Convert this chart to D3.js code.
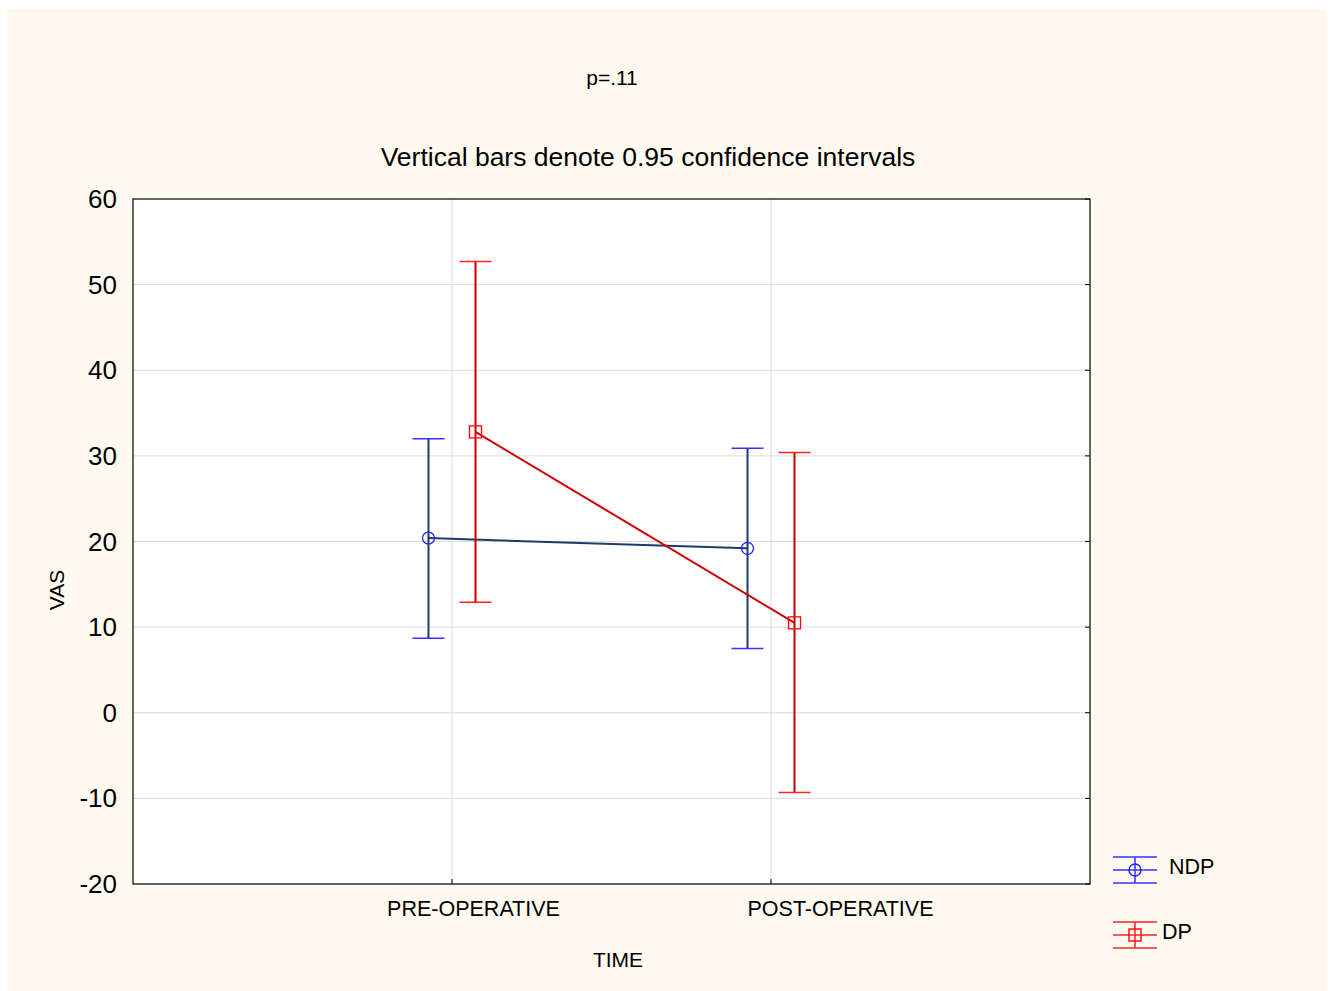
<!DOCTYPE html>
<html>
<head>
<meta charset="utf-8">
<script src="https://cdn.jsdelivr.net/npm/d3@7"></script>
<style>
  body { margin: 0; background: #fff; }
  text { font-family: "Liberation Sans", Arial, sans-serif; fill: #000; }
</style>
</head>
<body>
<svg id="chart" width="1333" height="991"></svg>
<script>
// data
var times = ["PRE-OPERATIVE", "POST-OPERATIVE"]
var groups = ["NDP", "DP"]
var ndpMean = [20.4, 19.2]
var ndpLow = [8.7, 7.5]
var ndpHigh = [32.0, 30.9]
var dpMean = [32.8, 10.5]
var dpLow = [12.9, -9.3]
var dpHigh = [52.7, 30.4]
var yTicks = [-20, -10, 0, 10, 20, 30, 40, 50, 60]

var svg = d3.select("#chart")

// panel background
svg.append("rect")
   .attr("x", 7).attr("y", 9)
   .attr("width", 1320).attr("height", 982)
   .attr("fill", "#fffaf0")

var pLeft = 133, pRight = 1090, pTop = 199, pBottom = 884

var x = d3.scalePoint().domain(times).range([pLeft, pRight]).padding(1)
var y = d3.scaleLinear().domain([-20, 60]).range([pBottom, pTop])

// plot area
svg.append("rect")
   .attr("x", pLeft).attr("y", pTop)
   .attr("width", pRight - pLeft).attr("height", pBottom - pTop)
   .attr("fill", "#fff")

// grid
svg.append("g").selectAll("line").data(yTicks.slice(1, -1)).join("line")
   .attr("x1", pLeft).attr("x2", pRight)
   .attr("y1", d => y(d)).attr("y2", d => y(d))
   .attr("stroke", "#dcdcdc").attr("stroke-width", 1)
svg.append("g").selectAll("line").data(times).join("line")
   .attr("x1", d => x(d)).attr("x2", d => x(d))
   .attr("y1", pTop).attr("y2", pBottom)
   .attr("stroke", "#dcdcdc").attr("stroke-width", 1)

// axes (tick labels only, frame drawn separately)
var yAxis = d3.axisLeft(y).tickValues(yTicks).tickFormat(d => String(d)).tickSize(0).tickPadding(16)
var gy = svg.append("g").attr("transform", "translate(" + pLeft + ",0)").call(yAxis)
gy.select(".domain").remove()
gy.selectAll("text").style("font-size", "26px").attr("dy", "0.33em")

var xAxis = d3.axisBottom(x).tickSize(0).tickPadding(17)
var gx = svg.append("g").attr("transform", "translate(0," + pBottom + ")").call(xAxis)
gx.select(".domain").remove()
var labelShift = [21, 69]
gx.selectAll("text").style("font-size", "21.5px").attr("dx", (d, i) => labelShift[i])

// small ticks on frame
svg.append("g").selectAll("line").data(yTicks).join("line")
   .attr("x1", pRight - 5).attr("x2", pRight)
   .attr("y1", d => y(d)).attr("y2", d => y(d))
   .attr("stroke", "#000")
svg.append("g").selectAll("line").data(times).join("line")
   .attr("x1", d => x(d)).attr("x2", d => x(d))
   .attr("y1", pBottom).attr("y2", pBottom - 5)
   .attr("stroke", "#000")

svg.append("rect")
   .attr("x", pLeft).attr("y", pTop)
   .attr("width", pRight - pLeft).attr("height", pBottom - pTop)
   .attr("fill", "none").attr("stroke", "#000").attr("stroke-width", 1.2)

// series
var series = [
  {name: "NDP", mean: ndpMean, low: ndpLow, high: ndpHigh, off: -23.5, line: "#1f3b6b", cap: "#3333ff", mark: "circle"},
  {name: "DP", mean: dpMean, low: dpLow, high: dpHigh, off: 23.5, line: "#cc0000", cap: "#ff2020", mark: "square"}
]

series.forEach(function(s) {
  var g = svg.append("g")
  var pts = times.map((t, i) => ({x: x(t) + s.off, m: s.mean[i], lo: s.low[i], hi: s.high[i]}))
  g.selectAll(".bar").data(pts).join("line")
   .attr("x1", d => d.x).attr("x2", d => d.x)
   .attr("y1", d => y(d.lo)).attr("y2", d => y(d.hi))
   .attr("stroke", s.line).attr("stroke-width", 2)
  g.selectAll(".capHi").data(pts).join("line")
   .attr("x1", d => d.x - 16).attr("x2", d => d.x + 16)
   .attr("y1", d => y(d.hi)).attr("y2", d => y(d.hi))
   .attr("stroke", s.cap).attr("stroke-width", 1.5)
  g.selectAll(".capLo").data(pts).join("line")
   .attr("x1", d => d.x - 16).attr("x2", d => d.x + 16)
   .attr("y1", d => y(d.lo)).attr("y2", d => y(d.lo))
   .attr("stroke", s.cap).attr("stroke-width", 1.5)
  g.append("path").datum(pts)
   .attr("d", d3.line().x(d => d.x).y(d => y(d.m)))
   .attr("fill", "none").attr("stroke", s.line).attr("stroke-width", 2)
  if (s.mark == "circle") {
    g.selectAll(".mk").data(pts).join("circle")
     .attr("cx", d => d.x).attr("cy", d => y(d.m)).attr("r", 6)
     .attr("fill", "none").attr("stroke", "#2222ff").attr("stroke-width", 1.3)
  } else {
    g.selectAll(".mk").data(pts).join("rect")
     .attr("x", d => d.x - 6).attr("y", d => y(d.m) - 6)
     .attr("width", 12).attr("height", 12)
     .attr("fill", "none").attr("stroke", "#ff0000").attr("stroke-width", 1.3)
  }
})

// legend
var legY = [870, 935]
series.forEach(function(s, i) {
  var g = svg.append("g").attr("transform", "translate(1135," + legY[i] + ")")
  ;[-13, 0, 13].forEach(function(dy) {
    g.append("line").attr("x1", -22).attr("x2", 22).attr("y1", dy).attr("y2", dy)
     .attr("stroke", s.cap).attr("stroke-width", 1.5)
  })
  g.append("line").attr("x1", 0).attr("x2", 0).attr("y1", -13).attr("y2", 13)
   .attr("stroke", s.cap).attr("stroke-width", 1.5)
  if (s.mark == "circle") {
    g.append("circle").attr("r", 6).attr("fill", "none").attr("stroke", "#2222ff").attr("stroke-width", 1.4)
  } else {
    g.append("rect").attr("x", -6).attr("y", -6).attr("width", 12).attr("height", 12)
     .attr("fill", "none").attr("stroke", "#ff0000").attr("stroke-width", 1.4)
  }
  g.append("text").attr("x", i == 0 ? 34 : 27).attr("y", -4)
   .attr("dy", "0.35em").style("font-size", "21.5px").text(s.name)
})

// titles
svg.append("text").attr("x", 612).attr("y", 85).attr("text-anchor", "middle")
   .style("font-size", "21px").text("p=.11")
svg.append("text").attr("x", 648).attr("y", 166).attr("text-anchor", "middle")
   .style("font-size", "26.5px").text("Vertical bars denote 0.95 confidence intervals")
svg.append("text").attr("x", 618).attr("y", 967).attr("text-anchor", "middle")
   .style("font-size", "21px").text("TIME")
svg.append("text").attr("transform", "translate(64,590) rotate(-90)").attr("text-anchor", "middle")
   .style("font-size", "21px").text("VAS")
</script>
</body>
</html>
